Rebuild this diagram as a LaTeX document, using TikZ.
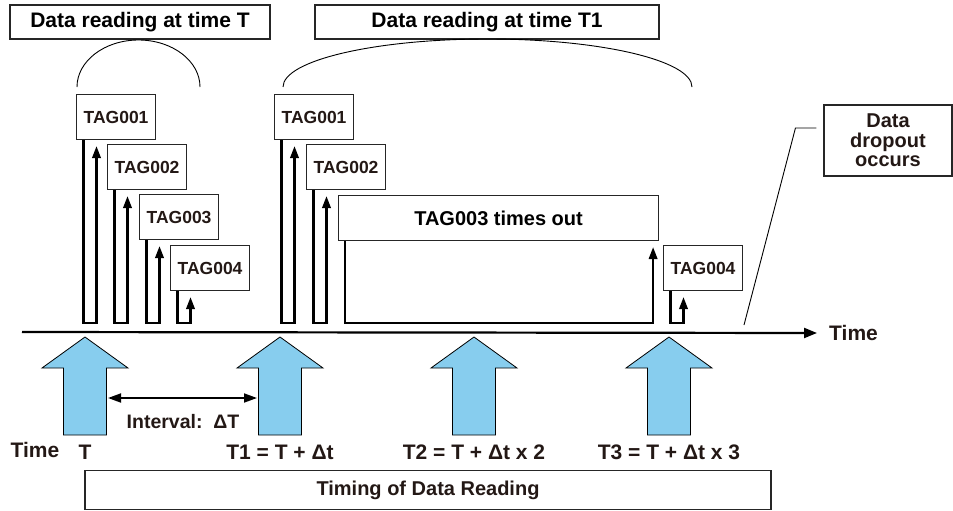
\documentclass[tikz,border=0pt]{standalone}
\usepackage{fontspec}
\setmainfont{Liberation Sans}
\usetikzlibrary{arrows.meta}
\definecolor{skyb}{RGB}{135,205,238}
\definecolor{ink}{RGB}{35,24,21}
\begin{document}
\begin{tikzpicture}[x=1pt,y=-1pt,
  hdr/.style={draw=black!85, line width=1.1pt, inner sep=0pt, minimum height=34pt, font=\bfseries\fontsize{21}{21}\selectfont},
  tag/.style={draw=black!85, line width=1.1pt, minimum width=79pt, minimum height=45pt, inner sep=0pt, anchor=north west, font=\bfseries\fontsize{17.5}{18}\selectfont, text=ink},
  tagline/.style={line width=2.2pt, -{Triangle[length=12pt,width=8.5pt]}},
  lbl/.style={inner sep=0pt, font=\bfseries\fontsize{21}{22}\selectfont, text=ink},
  thinline/.style={line width=0.9pt},
  readarrow/.pic={
    \draw[fill=skyb, line width=0.8pt] (0,0) -- (43,31) -- (21.5,31) -- (21.5,98) -- (-21.5,98) -- (-21.5,31) -- (-43,31) -- cycle;
    \coordinate (-r) at (21.5,61);
    \coordinate (-l) at (-21.5,61);
  }
]
\useasboundingbox (0,0) rectangle (953,511);

% headers
\node[hdr, minimum width=260pt] (h1) at (140,22) {Data reading at time T};
\node[hdr, minimum width=344pt] (h2) at (487,22) {Data reading at time T1};
\draw[thinline] (77,87) arc[start angle=180,end angle=0,x radius=61.5pt,y radius=47pt];
\draw[thinline] (283,87) arc[start angle=180,end angle=0,x radius=204.5pt,y radius=48pt];

\coordinate (base) at (0,323);

% group at T
\node[tag] (ta1) at (76,94) {\raisebox{-6pt}{TAG001}};
\node[tag] (ta2) at (107,144) {\raisebox{-6pt}{TAG002}};
\node[tag] (ta3) at (139,194) {\raisebox{-6pt}{TAG003}};
\node[tag] (ta4) at (170,245) {\raisebox{-6pt}{TAG004}};
\foreach \n in {ta1,ta2,ta3,ta4}{
  \draw[tagline] ([xshift=7.5pt]\n.south west) |- ([xshift=20.5pt]\n.south west |- base) -- ([xshift=20.5pt,yshift=-6pt]\n.south west);
}

% group at T1
\node[tag] (tb1) at (274,94) {\raisebox{-6pt}{TAG001}};
\node[tag] (tb2) at (306,144) {\raisebox{-6pt}{TAG002}};
\node[tag, minimum width=320pt, font=\bfseries\fontsize{20}{20}\selectfont, text=black] (tb3) at (338,195) {\raisebox{-3pt}{TAG003 times out}};
\node[tag] (tb4) at (663,245) {\raisebox{-6pt}{TAG004}};
\foreach \n in {tb1,tb2,tb4}{
  \draw[tagline] ([xshift=7.5pt]\n.south west) |- ([xshift=20.5pt]\n.south west |- base) -- ([xshift=20.5pt,yshift=-6pt]\n.south west);
}
\draw[tagline] ([xshift=7pt]tb3.south west) |- ([xshift=-6pt]tb3.south east |- base) -- ([xshift=-6pt,yshift=-6pt]tb3.south east);

% time axis
\coordinate (ax0) at (22,332);
\node[lbl, anchor=west] (tlab) at (829,333) {Time};
\draw[line width=2.2pt, -{Triangle[length=13pt,width=10pt]}] (ax0) -- ([xshift=-12pt]tlab.west);

% data dropout
\node[draw=black!85, line width=1.1pt, minimum width=128pt, minimum height=71pt, inner sep=0pt, align=center, font=\bfseries\fontsize{20}{19.5}\selectfont, text=ink] (drop) at (888,140.5) {Data\\dropout\\occurs};
\coordinate (dend) at (744,325);
\draw[thinline] ([xshift=-7pt,yshift=12.5pt]drop.west) -- ++(-21,0) -- (dend);

% reading arrows
\pic (r1) at (85,337) {readarrow};
\pic (r2) at (280,337) {readarrow};
\pic (r3) at (474,337) {readarrow};
\pic (r4) at (669,337) {readarrow};
\draw[line width=1.8pt, {Triangle[length=13pt,width=9pt]}-{Triangle[length=13pt,width=9pt]}] ([xshift=1.5pt]r1-r) -- ([xshift=-1.5pt]r2-l);
\node[lbl, font=\bfseries\fontsize{19.5}{22}\selectfont] (intv) at (183,422) {Interval:\ \ ΔT};

% time labels
\node[lbl] (lt) at (35,450) {Time};
\node[lbl] (l0) at (85,452) {T};
\node[lbl] (l1) at (280,452) {T1 = T + Δt};
\node[lbl] (l2) at (474,452) {T2 = T + Δt x 2};
\node[lbl] (l3) at (669,452) {T3 = T + Δt x 3};

% bottom box
\node[draw=black!85, line width=1.1pt, minimum width=686pt, minimum height=39pt, inner sep=0pt, font=\bfseries\fontsize{20}{22}\selectfont, text=ink] (timing) at (428,490) {Timing of Data Reading};
\end{tikzpicture}
\end{document}
